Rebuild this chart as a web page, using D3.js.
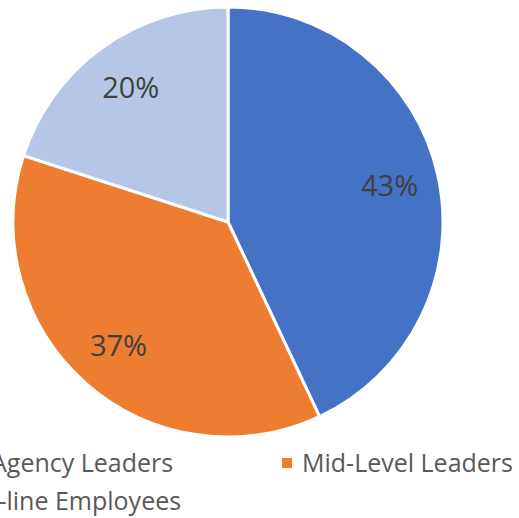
<!DOCTYPE html>
<html>
<head>
<meta charset="utf-8">
<script src="https://cdn.jsdelivr.net/npm/d3@7"></script>
<style>
  body { margin: 0; background: #fff; overflow: hidden; }
  svg { display: block; font-family: "Open Sans", "Noto Sans", sans-serif; }
</style>
</head>
<body>
<div id="graphicContainer"></div>
<script>
// chart data
const categories = ["Agency Leaders", "Mid-Level Leaders", "Front-line Employees"]
const values = [43, 37, 20]
const sliceColors = ["#4472C4", "#ED7D31", "#B4C7E7"]

const svgWidth = 519
const svgHeight = 518
const cx = 228
const cy = 222
const radius = 215

const svg = d3.select("#graphicContainer")
  .append("svg")
  .attr("width", svgWidth)
  .attr("height", svgHeight)

const color = d3.scaleOrdinal().domain(categories).range(sliceColors)

const pie = d3.pie().sort(null).value(d => d.value)
const data = categories.map((c, i) => ({ name: c, value: values[i] }))
const arcs = pie(data)

const arc = d3.arc().innerRadius(0).outerRadius(radius)
const labelArc = d3.arc().innerRadius(radius * 0.77).outerRadius(radius * 0.77)

const features = svg.append("g")
  .attr("transform", `translate(${cx},${cy})`)

features.selectAll(".slice")
  .data(arcs)
  .enter()
  .append("path")
  .attr("class", "slice")
  .attr("d", arc)
  .attr("fill", d => color(d.data.name))
  .attr("stroke", "#fff")
  .attr("stroke-width", 3)
  .attr("stroke-linejoin", "round")

const total = d3.sum(values)

features.selectAll(".pctText")
  .data(arcs)
  .enter()
  .append("text")
  .attr("class", "pctText")
  .attr("transform", d => `translate(${labelArc.centroid(d)})`)
  .attr("text-anchor", "middle")
  .attr("dy", "0.35em")
  .style("font-size", "29px")
  .style("fill", "#404040")
  .text(d => Math.round(d.data.value / total * 100) + "%")

// legend, laid out like the original (partly cut off on the left)
const legendItems = [
  { name: categories[0], x: -29, y: 463 },
  { name: categories[1], x: 282, y: 463 },
  { name: categories[2], x: -84, y: 501 }
]

const legend = svg.selectAll(".keyDiv")
  .data(legendItems)
  .enter()
  .append("g")
  .attr("class", "keyDiv")
  .attr("transform", d => `translate(${d.x},${d.y})`)

legend.append("rect")
  .attr("x", 0)
  .attr("y", -5)
  .attr("width", 10)
  .attr("height", 10)
  .attr("fill", d => color(d.name))

legend.append("text")
  .attr("x", 20)
  .attr("dy", "0.36em")
  .style("font-size", "25px")
  .style("fill", "#595959")
  .text(d => d.name)
</script>
</body>
</html>
